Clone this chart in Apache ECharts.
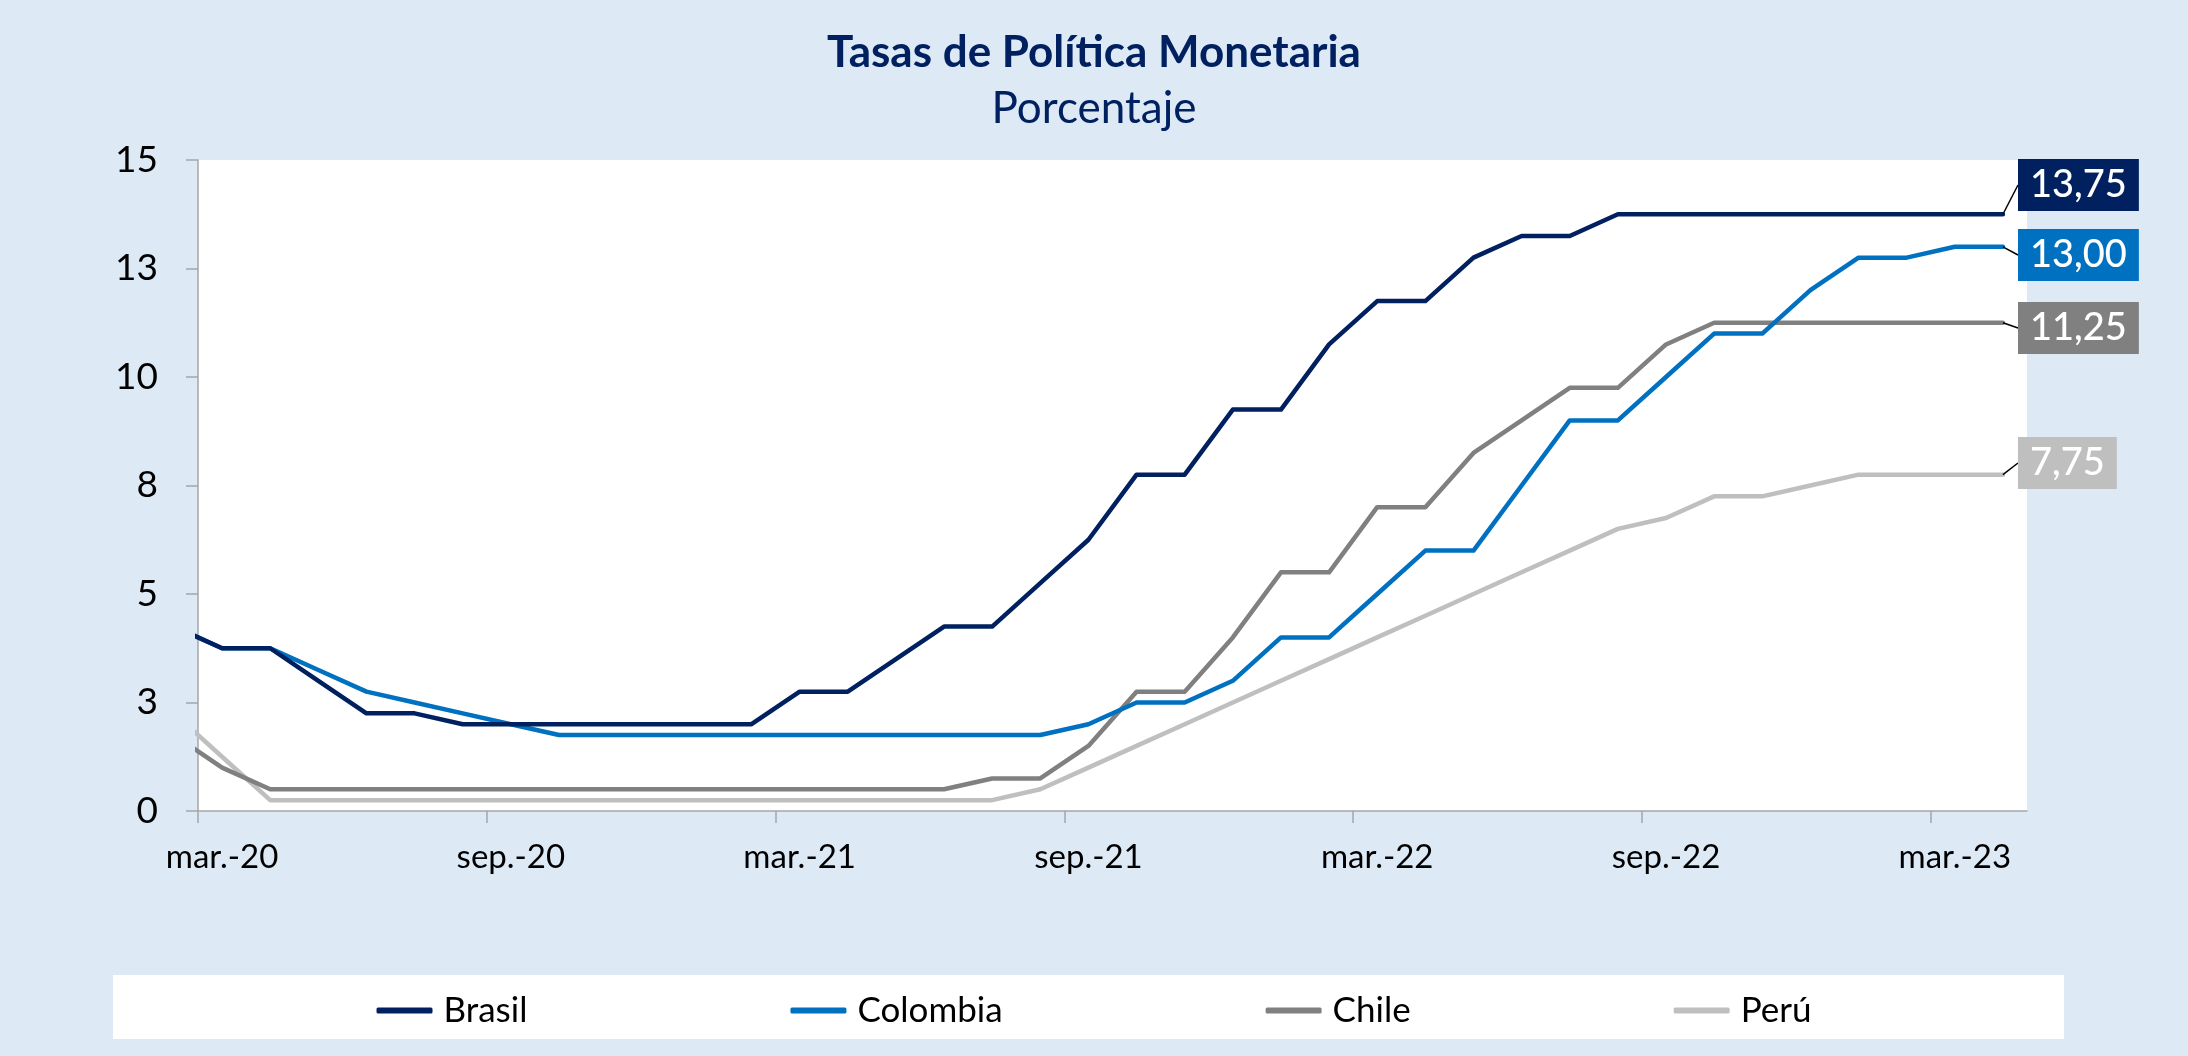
<!DOCTYPE html>
<html>
<head>
<meta charset="utf-8">
<title>Tasas de Política Monetaria</title>
<script src="https://cdn.jsdelivr.net/npm/echarts@6/dist/echarts.min.js"></script>
<style>
  html, body { margin: 0; padding: 0; background: #dde9f5; }
  #chart { width: 2188px; height: 1056px; }
</style>
</head>
<body>
<div id="chart"></div>
<script>
// meses: feb.-20 ... abr.-23
const months = [
  'feb.-20', 'mar.-20', 'abr.-20', 'may.-20', 'jun.-20', 'jul.-20', 'ago.-20', 'sep.-20', 'oct.-20', 'nov.-20', 'dic.-20',
  'ene.-21', 'feb.-21', 'mar.-21', 'abr.-21', 'may.-21', 'jun.-21', 'jul.-21', 'ago.-21', 'sep.-21', 'oct.-21', 'nov.-21', 'dic.-21',
  'ene.-22', 'feb.-22', 'mar.-22', 'abr.-22', 'may.-22', 'jun.-22', 'jul.-22', 'ago.-22', 'sep.-22', 'oct.-22', 'nov.-22', 'dic.-22',
  'ene.-23', 'feb.-23', 'mar.-23', 'abr.-23'
];

const brasil = [
  4.25, 3.75, 3.75, 3.00, 2.25, 2.25, 2.00, 2.00, 2.00, 2.00, 2.00,
  2.00, 2.00, 2.75, 2.75, 3.50, 4.25, 4.25, 5.25, 6.25, 7.75, 7.75, 9.25,
  9.25, 10.75, 11.75, 11.75, 12.75, 13.25, 13.25, 13.75, 13.75, 13.75, 13.75, 13.75,
  13.75, 13.75, 13.75, 13.75
];
const colombia = [
  4.25, 3.75, 3.75, 3.25, 2.75, 2.50, 2.25, 2.00, 1.75, 1.75, 1.75,
  1.75, 1.75, 1.75, 1.75, 1.75, 1.75, 1.75, 1.75, 2.00, 2.50, 2.50, 3.00,
  4.00, 4.00, 5.00, 6.00, 6.00, 7.50, 9.00, 9.00, 10.00, 11.00, 11.00, 12.00,
  12.75, 12.75, 13.00, 13.00
];
const chile = [
  1.75, 1.00, 0.50, 0.50, 0.50, 0.50, 0.50, 0.50, 0.50, 0.50, 0.50,
  0.50, 0.50, 0.50, 0.50, 0.50, 0.50, 0.75, 0.75, 1.50, 2.75, 2.75, 4.00,
  5.50, 5.50, 7.00, 7.00, 8.25, 9.00, 9.75, 9.75, 10.75, 11.25, 11.25, 11.25,
  11.25, 11.25, 11.25, 11.25
];
const peru = [
  2.25, 1.25, 0.25, 0.25, 0.25, 0.25, 0.25, 0.25, 0.25, 0.25, 0.25,
  0.25, 0.25, 0.25, 0.25, 0.25, 0.25, 0.25, 0.50, 1.00, 1.50, 2.00, 2.50,
  3.00, 3.50, 4.00, 4.50, 5.00, 5.50, 6.00, 6.50, 6.75, 7.25, 7.25, 7.50,
  7.75, 7.75, 7.75, 7.75
];

const seriesNames = ['Brasil', 'Colombia', 'Chile', 'Perú'];
const seriesColors = ['#002060', '#0070c0', '#808080', '#bfbfbf'];
const tickMonths = [1, 7, 13, 19, 25, 31, 37]; // mar. y sep.

// posición vertical de las etiquetas finales
const endLabelY = [185, 255, 328, 463];

const chart = echarts.init(document.getElementById('chart'));

const fmt = v => v.toFixed(2).replace('.', ',');

const makeSeries = (name, values, idx) => ({
  name: name,
  type: 'line',
  data: values.map((v, i) => {
    if (i === values.length - 1) {
      return { value: [i, v], label: { show: true } };
    }
    return [i, v];
  }),
  showSymbol: true,
  showAllSymbol: true,
  symbolSize: 0,
  lineStyle: { width: 4.5, color: seriesColors[idx], cap: 'round', join: 'round' },
  itemStyle: { color: seriesColors[idx] },
  label: {
    show: false,
    formatter: p => fmt(p.value[1]),
    color: '#fff',
    backgroundColor: seriesColors[idx],
    fontFamily: 'Lato',
    fontWeight: 500,
    fontSize: 38,
    lineHeight: 38,
    padding: [7, 12, 7, 12]
  },
  labelLine: {
    show: true,
    lineStyle: { color: '#000', width: 1.5 }
  },
  labelLayout: () => ({
    x: 2018,
    y: endLabelY[idx],
    align: 'left',
    verticalAlign: 'middle'
  }),
  emphasis: { disabled: true },
  z: 10 - idx
});

const option = {
  backgroundColor: '#dde9f5',
  animation: false,
  textStyle: { fontFamily: 'Lato' },
  title: {
    text: 'Tasas de Política Monetaria',
    subtext: 'Porcentaje',
    left: 'center',
    top: 26,
    itemGap: 12,
    textStyle: { color: '#002060', fontSize: 44, fontWeight: 'bold', fontFamily: 'Lato' },
    subtextStyle: { color: '#002060', fontSize: 44, fontFamily: 'Lato' }
  },
  grid: {
    left: 198,
    right: 161,
    top: 160,
    bottom: 245,
    show: true,
    backgroundColor: '#fff',
    borderWidth: 0
  },
  legend: {
    data: seriesNames,
    left: 'center',
    top: 988,
    itemGap: 263,
    itemWidth: 56,
    itemHeight: 6,
    icon: 'roundRect',
    textStyle: { fontSize: 35, color: '#000', fontFamily: 'Lato', padding: [0, 0, 0, 6] }
  },
  graphic: [{
    type: 'rect',
    left: 113,
    top: 975,
    z: -1,
    shape: { width: 1951, height: 64 },
    style: { fill: '#fff' }
  }],
  xAxis: {
    type: 'value',
    min: 0.5,
    max: 38.5,
    axisLine: { show: true, lineStyle: { color: '#a6a6a6', width: 1.5 } },
    axisTick: {
      show: true,
      length: 12,
      lineStyle: { color: '#a6a6a6', width: 1.5 },
      customValues: tickMonths.map(m => m - 0.5)
    },
    axisLabel: {
      customValues: tickMonths,
      formatter: v => months[Math.round(v)],
      color: '#000',
      fontSize: 33,
      margin: 30,
      fontFamily: 'Lato'
    },
    splitLine: { show: false }
  },
  yAxis: {
    type: 'value',
    min: 0,
    max: 15,
    interval: 2.5,
    axisLine: { show: true, lineStyle: { color: '#a6a6a6', width: 1.5 } },
    axisTick: { show: true, length: 12, lineStyle: { color: '#a6a6a6', width: 1.5 } },
    axisLabel: {
      formatter: v => String(Math.round(v)),
      color: '#000',
      fontSize: 37,
      margin: 40,
      fontFamily: 'Lato'
    },
    splitLine: { show: false }
  },
  series: [
    makeSeries('Brasil', brasil, 0),
    makeSeries('Colombia', colombia, 1),
    makeSeries('Chile', chile, 2),
    makeSeries('Perú', peru, 3)
  ]
};

chart.setOption(option);
</script>
</body>
</html>
